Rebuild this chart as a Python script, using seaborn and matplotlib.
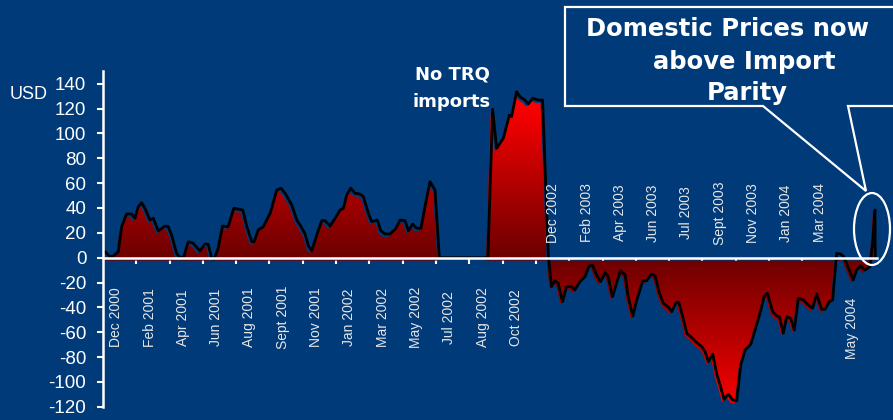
import numpy as np
import pandas as pd
import matplotlib
matplotlib.use("Agg")
import matplotlib.pyplot as plt
import seaborn as sns
from matplotlib.colors import LinearSegmentedColormap
from matplotlib.patches import PathPatch, Polygon, Ellipse
from matplotlib.transforms import Affine2D

# position on the category axis (1 unit = one label slot) and price gap in USD
pos = [0.06, 0.21, 0.31, 0.46, 0.56, 0.71, 0.86, 0.96, 1.06, 1.16, 1.26, 1.41, 1.51, 1.66, 1.86, 1.96,
       2.06, 2.21, 2.31, 2.43, 2.56, 2.71, 2.91, 3.06, 3.16, 3.26, 3.34, 3.46, 3.59, 3.76, 3.93, 4.20,
       4.32, 4.47, 4.54, 4.66, 4.81, 5.02, 5.22, 5.35, 5.47, 5.67, 5.82, 5.92, 6.07, 6.17, 6.27, 6.42,
       6.57, 6.67, 6.82, 6.97, 7.12, 7.22, 7.32, 7.44, 7.57, 7.72, 7.82, 7.97, 8.07, 8.24, 8.34, 8.47,
       8.62, 8.80, 8.92, 9.07, 9.17, 9.30, 9.42, 9.55, 9.67, 9.82, 9.97, 10.10, 11.56, 11.70, 11.82,
       12.02, 12.14, 12.20, 12.27, 12.42, 12.52, 12.67, 12.77, 12.90, 13.07, 13.20, 13.37, 13.47, 13.57,
       13.67, 13.80, 13.92, 14.07, 14.17, 14.32, 14.47, 14.60, 14.70, 14.82, 14.94, 15.08, 15.17, 15.30,
       15.42, 15.54, 15.68, 15.77, 15.91, 16.03, 16.21, 16.33, 16.46, 16.58, 16.71, 16.83, 16.98, 17.08,
       17.21, 17.29, 17.41, 17.53, 17.65, 17.83, 17.98, 18.08, 18.18, 18.31, 18.43, 18.53, 18.65, 18.78,
       18.91, 19.03, 19.15, 19.28, 19.45, 19.58, 19.73, 19.85, 19.95, 20.11, 20.23, 20.31, 20.43, 20.53,
       20.65, 20.76, 20.88, 21.03, 21.18, 21.31, 21.43, 21.58, 21.68, 21.81, 21.91, 22.03, 22.13, 22.23,
       22.33, 22.43, 22.53, 22.63, 22.75, 22.88, 23.03, 23.11, 23.18, 23.19]
gap = [4.8, 0.8, 1.4, 4.8, 24.9, 35.2, 35.2, 31.7, 41.0, 44.3, 39.8, 30.3, 31.7, 21.5, 25.5, 24.9,
       18.3, 3.5, 0, 0.8, 12.9, 11.6, 5.4, 11.0, 10.8, 0, -1, 7.6, 25.5, 24.9, 39.8, 38.4,
       24.9, 12.9, 12.9, 22.3, 24.9, 35.7, 54.5, 55.9, 51.8, 42.4, 30.3, 26.3, 19.1, 9.4, 5.6, 18.3,
       29.8, 29.8, 25.5, 31.7, 38.4, 39.8, 50.5, 55.9, 51.8, 51.3, 49.1, 35.7, 29.0, 30.3, 21.7, 19.1,
       19.1, 23.7, 30.3, 29.8, 21.7, 27.1, 23.7, 23.7, 41.0, 61.2, 54.5, 0, 0, 119.4, 88.0,
       96.1, 108.2, 114.8, 113.5, 133.6, 129.6, 126.9, 123.7, 128.3, 126.9, 126.9, 3.5, -23.3, -18.5,
       -20.6, -35.4, -23.3, -23.3, -26.0, -19.3, -15.3, -6.7, -5.9, -13.9, -19.3, -12.1, -15.3, -31.4,
       -20.6, -10.5, -13.9, -31.4, -46.9, -34.0, -18.5, -18.5, -13.1, -14.7, -28.7, -36.7, -39.9, -43.4,
       -36.2, -35.9, -47.5, -60.8, -63.6, -68.4, -71.6, -75.7, -83.7, -77.5, -93.6, -102.4, -114.0, -109.9,
       -114.5, -115.1, -86.4, -74.3, -69.7, -58.2, -44.7, -31.4, -28.7, -43.4, -46.9, -47.5, -60.8, -47.5,
       -48.8, -58.2, -32.7, -34.0, -38.1, -40.7, -29.2, -41.5, -41.5, -35.4, -34.0, 3.5, 3.0, 1.4,
       -4.5, -11.3, -17.9, -9.9, -6.7, -9.9, -7.2, 11.6, 38.4, 0]

month_labels = ["Dec 2000", "Feb 2001", "Apr 2001", "Jun 2001", "Aug 2001", "Sept 2001", "Nov 2001",
                "Jan 2002", "Mar 2002", "May 2002", "Jul 2002", "Aug 2002", "Oct 2002",
                "Dec 2002", "Feb 2003", "Apr 2003", "Jun 2003", "Jul 2003", "Sept 2003", "Nov 2003",
                "Jan 2004", "Mar 2004", "May 2004"]
y_ticks = list(range(-120, 141, 20))

bg = "#003A78"
sns.set_style("ticks")
plt.rcParams["font.family"] = ["Liberation Sans", "DejaVu Sans"]
plt.rcParams["axes.unicode_minus"] = False

fig = plt.figure(figsize=(8.93, 4.2), dpi=100, facecolor=bg)
ax = fig.add_axes([0.1153, 0.0314, 0.8667, 0.7988])
ax.set_facecolor(bg)

df = pd.DataFrame({"pos": pos, "gap": gap})
xmax = 23.24

# red area drawn as a slightly shifted shadow, gradient dark -> bright with distance from zero
area = ax.fill_between(df["pos"] - 0.06, df["gap"] - 2.4, -2.4, facecolor="none", edgecolor="none")
clip = PathPatch(area.get_paths()[0], transform=ax.transData, facecolor="none", edgecolor="none")
ax.add_patch(clip)
levels = np.abs(np.linspace(-120, 150, 500)).reshape(-1, 1)
reds = LinearSegmentedColormap.from_list("reds", ["#6C0000", "#FF0000"])
img = ax.imshow(levels, cmap=reds, vmin=0, vmax=125, origin="lower",
                extent=[0, xmax, -120, 150], aspect="auto", zorder=1)
img.set_clip_path(clip)

sns.lineplot(data=df, x="pos", y="gap", color="black", lw=2, sort=False,
             estimator=None, ax=ax, zorder=2)

ax.set_xlim(0, xmax)
ax.set_ylim(-120, 150)
ax.set_xlabel("")
ax.set_ylabel("")

for s in ["top", "right"]:
    ax.spines[s].set_visible(False)
ax.spines["bottom"].set_position(("data", 0))
for s in ["left", "bottom"]:
    ax.spines[s].set_color("white")
    ax.spines[s].set_linewidth(1.8)
    ax.spines[s].set_zorder(4)

ax.set_xticks(np.arange(1, 23))
ax.tick_params(axis="x", length=4, width=1.5, color="white", labelbottom=False)
ax.set_yticks(y_ticks)
ax.tick_params(axis="y", length=4, width=1.5, colors="white", labelsize=13.5, pad=8)

# month labels: below the axis on the left half, above it while prices are negative
for i, lab in enumerate(month_labels):
    if i < 13:
        x, y = i + 0.4, -48
    elif i < 22:
        x, y = i + 0.52, 36
    else:
        x, y = i + 0.48, -57
    ax.text(x, y, lab, rotation=90, ha="center", va="center", fontsize=10, color="#E6E6E6")

# figure pixel coordinates, origin top-left
px = Affine2D().scale(1 / 893, -1 / 420).translate(0, 1) + fig.transFigure

fig.text(10, 99, "USD", transform=px, fontsize=13, color="white", va="baseline")
fig.text(452, 79.5, "No TRQ", transform=px, fontsize=13, color="white", ha="center",
         va="baseline", fontweight="bold", family="DejaVu Sans")
fig.text(452, 107, "imports", transform=px, fontsize=13, color="white", ha="center",
         va="baseline", fontweight="bold", family="DejaVu Sans")

callout = Polygon([(565, 7), (900, 7), (900, 106), (848, 106), (866, 191), (763, 106), (565, 106)],
                  closed=True, facecolor=bg, edgecolor="white", lw=1.6, transform=px, zorder=5)
fig.add_artist(callout)
fig.add_artist(Ellipse((872, 229), 36, 72, facecolor="none", edgecolor="white", lw=1.6,
                       transform=px, zorder=5))
for txt, cx, by in [("Domestic Prices now", 727, 36.5), ("above Import", 744, 69),
                    ("Parity", 747, 100)]:
    fig.text(cx, by, txt, transform=px, fontsize=17.5, color="white", ha="center",
             va="baseline", fontweight="bold", family="DejaVu Sans", zorder=6)

fig.savefig("out.png", dpi=100, facecolor=bg)
